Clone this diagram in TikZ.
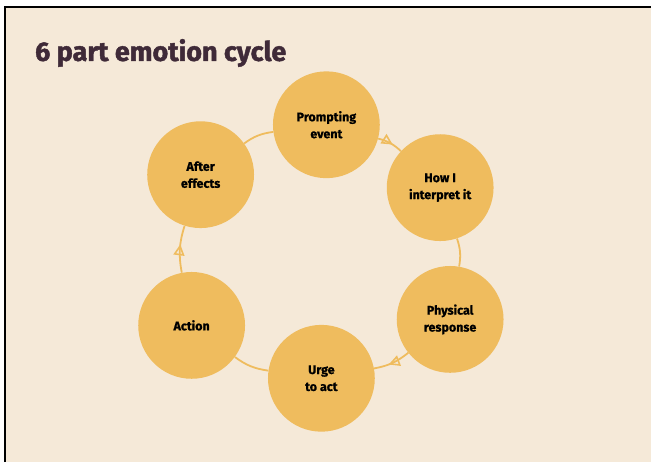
\documentclass[tikz,border=0pt]{standalone}
\usepackage{fontspec}
\setmainfont{Fira Sans}
\newfontfamily\heavyfont{Fira Sans}[BoldFeatures={FakeBold=1.6}]
\newfontfamily\labelfont{Fira Sans}[BoldFeatures={FakeBold=0.8}]
\usetikzlibrary{arrows.meta,decorations.markings}
\definecolor{cream}{HTML}{F5E9D8}
\definecolor{honey}{HTML}{EFBC5E}
\definecolor{plum}{HTML}{3F2A38}
\tikzset{
  stage/.style={circle, fill=honey, minimum size=107pt, inner sep=0pt,
    align=center, font=\labelfont\bfseries\fontsize{12.5}{17}\selectfont, text=black},
  link/.style={draw=honey, line width=1.8pt, bend left=14},
  flow/.style={link, postaction={decorate}, decoration={markings,
    mark=at position 0.6 with {\arrow{Triangle[open, length=11pt, width=11pt, line width=1.6pt, color=honey]}}}}
}
\begin{document}
\begin{tikzpicture}[x=1pt, y=1pt]
  % page and frame
  \fill[white] (0,0) rectangle (652,463);
  \fill[cream] (5,0) rectangle (652,456);
  \draw[black, line width=2.5pt] (5,0) -- (5,456) -- (652,456);

  % title
  \node[anchor=base west, inner sep=0pt, text=plum,
        font=\heavyfont\bfseries\fontsize{27}{31}\selectfont] (title) at (35,402) {6 part emotion cycle};

  % stages of the cycle
  \node[stage] (prompt) at (327,338) {Prompting\\event};
  \node[stage] (interp) at (441,275) {How I\\interpret it};
  \node[stage] (phys)   at (451,143) {Physical\\response};
  \node[stage] (urge)   at (322,84)  {Urge\\to act};
  \node[stage] (action) at (192,137) {Action};
  \node[stage] (after)  at (201,288) {After\\effects};

  % ring of connectors, arrowheads on every other step
  \path[flow] (prompt) to (interp);
  \path[link] (interp) to (phys);
  \path[flow] (phys) to (urge);
  \path[link] (urge) to (action);
  \path[flow] (action) to (after);
  \path[link] (after) to (prompt);
\end{tikzpicture}
\end{document}
